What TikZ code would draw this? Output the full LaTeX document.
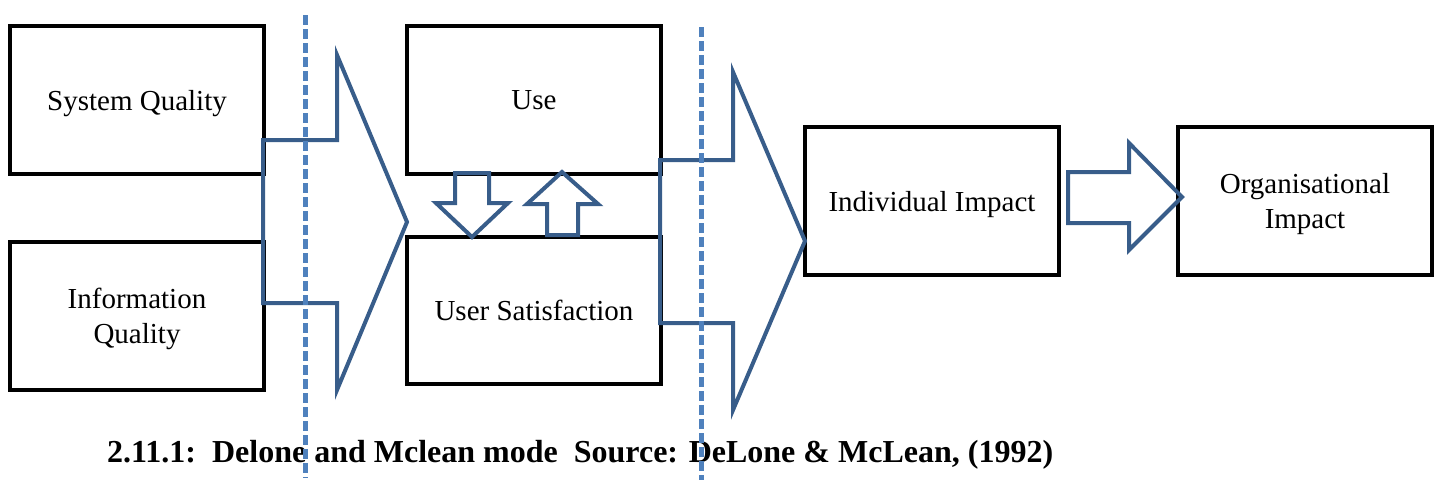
\documentclass[tikz,border=0pt]{standalone}
\usepackage{fontspec}
\setmainfont{Liberation Serif}
\usetikzlibrary{positioning}
\definecolor{arrowblue}{RGB}{56,93,138}
\definecolor{lineblue}{RGB}{79,129,189}
\begin{document}
\begin{tikzpicture}
[x=1pt,y=-1pt,
  boxdecorate/.style={shape=rectangle,draw,line width=4pt,minimum width=254pt,minimum height=148pt,align=center,text depth=0pt,font=\fontsize{29}{35}\selectfont},
  arrowdecorate/.style={draw=arrowblue,line width=4pt,line join=miter},
  dashdecorate/.style={draw=lineblue,line width=5pt,dash pattern=on 10pt off 4pt}]
\useasboundingbox (0,0) rectangle (1436,480);
% boxes
\node (sys) at (137,100) [boxdecorate] {System Quality};
\node (info) at (137,316) [boxdecorate] {Information\\Quality};
\node (use) at (534,100) [boxdecorate] {Use};
\node (sat) at (534,310) [boxdecorate,minimum height=147pt] {User Satisfaction};
\node (ind) at (932,201) [boxdecorate] {Individual Impact};
\node (org) at (1305,201) [boxdecorate] {Organisational\\Impact};
% block arrows
\draw[arrowdecorate] (263,140) -- (337,140) -- (337,55) -- (407,222) -- (337,390) -- (337,303) -- (263,303) -- cycle;
\draw[arrowdecorate] (660,160) -- (733,160) -- (733,72) -- (805,241) -- (733,410) -- (733,323) -- (660,323) -- cycle;
\draw[arrowdecorate] (455,173) -- (489,173) -- (489,203) -- (508,203) -- (472,237) -- (436,203) -- (455,203) -- cycle;
\draw[arrowdecorate] (547,235) -- (578,235) -- (578,204) -- (598,204) -- (562,172) -- (527,204) -- (547,204) -- cycle;
\draw[arrowdecorate] (1068,172) -- (1129,172) -- (1129,143) -- (1182,197) -- (1129,250) -- (1129,223) -- (1068,223) -- cycle;
% caption
\node (caption) at (107,462) [anchor=base west,inner sep=0pt,font=\bfseries\fontsize{32}{38}\selectfont] {2.11.1:\ \ Delone and Mclean mode\ \ Source: DeLone \& McLean, (1992)};
% dashed cut lines
\coordinate (cutonetop) at (305,15);
\coordinate (cutonebot) at (305,478);
\coordinate (cuttwotop) at (701,27);
\coordinate (cuttwobot) at (701,480);
\draw[dashdecorate] (cutonetop) -- (cutonebot);
\draw[dashdecorate] (cuttwotop) -- (cuttwobot);
\end{tikzpicture}
\end{document}
